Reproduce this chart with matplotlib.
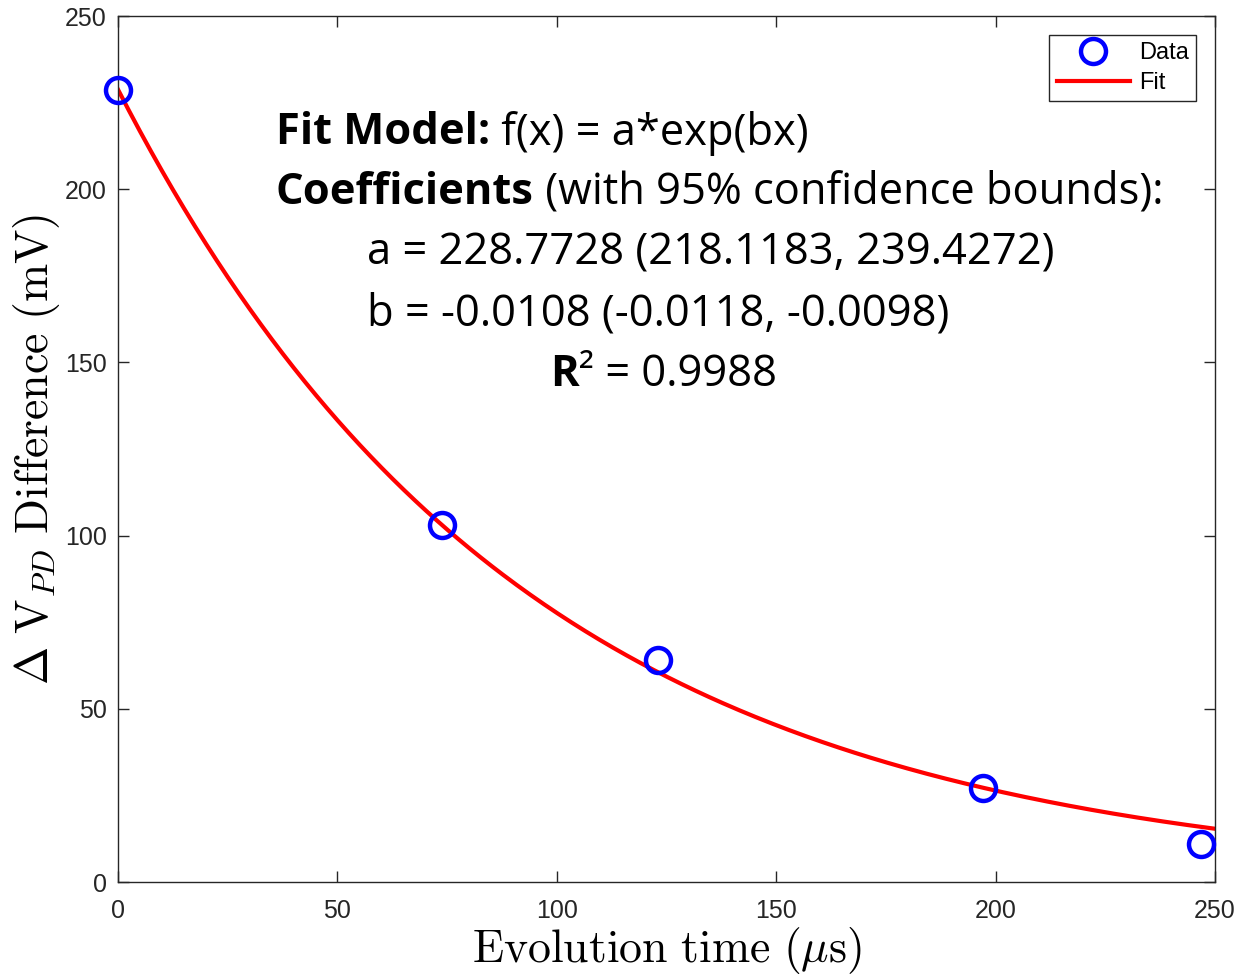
import numpy as np
import matplotlib
matplotlib.use('Agg')
import matplotlib.pyplot as plt

# data
time_us = [0, 73.8, 123.1, 197.1, 246.8]
dv_mv = [228.6, 103.1, 64.1, 27.1, 11.0]

# fit coefficients shown on the chart
fit_a = 228.7728
fit_b = -0.0108

xticks = [0, 50, 100, 150, 200, 250]
yticks = [0, 50, 100, 150, 200, 250]

plt.rcParams['mathtext.fontset'] = 'cm'
plt.rcParams['font.family'] = ['Liberation Sans', 'DejaVu Sans']

fig = plt.figure(figsize=(12.47, 9.76), dpi=100)
ax = fig.add_axes([118/1247, 1 - 882/976, (1215-118)/1247, (882-16)/976])

xfit = np.linspace(0, 250, 400)
ax.plot(xfit, fit_a*np.exp(fit_b*xfit), color='#ff0000', linewidth=3, label='Fit', zorder=2)
ax.plot(time_us, dv_mv, linestyle='none', marker='o', markersize=18, markerfacecolor='none',
        markeredgecolor='#0000ff', markeredgewidth=3.2, label='Data', zorder=3, clip_on=False)

ax.set_xlim(0, 250)
ax.set_ylim(0, 250)
ax.set_xticks(xticks)
ax.set_yticks(yticks)
ax.tick_params(direction='in', length=8, width=1, colors='#262626', labelsize=18,
               top=True, right=True)
ax.tick_params(axis='x', pad=12)
ax.tick_params(axis='y', pad=8)
for s in ax.spines.values():
    s.set_color('#262626')
    s.set_linewidth(1)

ax.set_xlabel(r'$\mathrm{Evolution\ time\ (}\mu\mathrm{s)}$', fontsize=33, labelpad=2)
ax.set_ylabel(r'$\Delta\ \mathrm{V}_{PD}\ \mathrm{Difference\ (mV)}$', fontsize=33, labelpad=2)

h, l = ax.get_legend_handles_labels()
leg = ax.legend([h[1], h[0]], [l[1], l[0]], loc='upper right', fontsize=17, numpoints=1,
                handlelength=3.1, fancybox=False, framealpha=1, edgecolor='#262626',
                borderaxespad=0.8, handletextpad=0.4, labelspacing=0.35, borderpad=0.3)
leg.get_frame().set_linewidth(1)

# annotation text, bold part + normal part
fs = 31.3
tfont = ['Open Sans', 'DejaVu Sans']
fig.canvas.draw()
rend = fig.canvas.get_renderer()

def mixed(xpx, ypx, bold, rest):
    x = xpx/1247
    y = 1 - ypx/976
    t = fig.text(x, y, bold, fontsize=fs, fontweight='bold', family=tfont, va='center', ha='left')
    bb = t.get_window_extent(renderer=rend)
    x2 = bb.x1/fig.bbox.width
    fig.text(x2, y, rest, fontsize=fs, family=tfont, va='center', ha='left')

mixed(276, 133, 'Fit Model:', ' f(x) = a*exp(bx)')
mixed(276, 192, 'Coefficients', ' (with 95% confidence bounds):')
fig.text(367/1247, 1 - 253/976, 'a = 228.7728 (218.1183, 239.4272)', fontsize=fs, family=tfont,
         va='center', ha='left')
fig.text(367/1247, 1 - 314/976, 'b = -0.0108 (-0.0118, -0.0098)', fontsize=fs, family=tfont,
         va='center', ha='left')
mixed(550, 375, 'R', '\u00b2 = 0.9988')

fig.savefig('out.png', dpi=100)
